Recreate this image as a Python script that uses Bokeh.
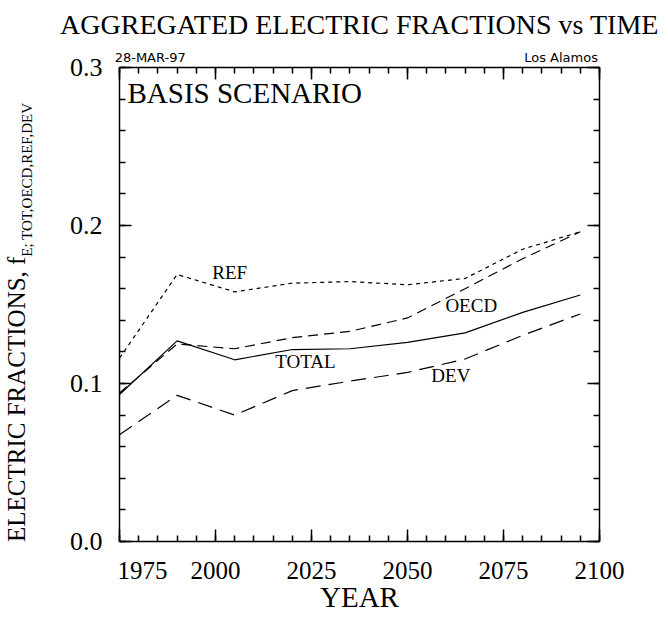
import math
from bokeh.plotting import figure
from bokeh.models import LinearAxis, FixedTicker, Label, ColumnDataSource, PrintfTickFormatter, Title
from bokeh.core.properties import value
from bokeh.embed import file_html
from bokeh.resources import INLINE

# ---- data ----
years = [1975, 1990, 2005, 2020, 2035, 2050, 2065, 2080, 2095]
total = [0.093, 0.127, 0.115, 0.1215, 0.122, 0.126, 0.132, 0.145, 0.156]
oecd = [0.094, 0.125, 0.122, 0.129, 0.133, 0.1415, 0.160, 0.179, 0.196]
ref = [0.116, 0.169, 0.158, 0.1635, 0.1645, 0.1625, 0.1665, 0.185, 0.196]
dev = [0.0675, 0.0925, 0.080, 0.0955, 0.1015, 0.107, 0.1155, 0.1305, 0.144]

label_names = ["REF", "OECD", "TOTAL", "DEV"]
label_x = [2003.7, 2066.6, 2023.4, 2061.3]
label_y = [0.170, 0.1494, 0.114, 0.105]

x_major = [1975, 2000, 2025, 2050, 2075, 2100]
x_minor = [1975, 1980, 1985, 1990, 1995, 2000, 2005, 2010, 2015, 2020, 2025,
           2030, 2035, 2040, 2045, 2050, 2055, 2060, 2065, 2070, 2075, 2080,
           2085, 2090, 2095, 2100]
x_label_pos = [1981, 2000, 2025, 2050, 2075, 2100]
x_label_text = {1981: "1975", 2000: "2000", 2025: "2025", 2050: "2050",
                2075: "2075", 2100: "2100"}
y_major = [0.0, 0.1, 0.2, 0.3]
y_minor = [0.0, 0.02, 0.04, 0.06, 0.08, 0.1, 0.12, 0.14, 0.16, 0.18, 0.2,
           0.22, 0.24, 0.26, 0.28, 0.3]
corner_pos = [1983, 2090]
corner_text = {1983: "28-MAR-97", 2090: "Los Alamos"}
ylab_main_pos = [0.09]
ylab_main_text = {0.09: "ELECTRIC FRACTIONS, f"}
ylab_sub_pos = [0.229]
ylab_sub_text = {0.229: "E; TOT,OECD,REF,DEV"}

SERIF = "Liberation Serif"

p = figure(width=660, height=620, x_range=(1975, 2100), y_range=(0, 0.3),
           output_backend="svg", toolbar_location=None,
           min_border_left=119, min_border_right=61, min_border_top=61,
           min_border_bottom=79)
p.grid.visible = False
p.outline_line_color = None
p.background_fill_color = "white"
p.border_fill_color = "white"

bottom = p.below[0]
left = p.left[0]
top = LinearAxis()
right = LinearAxis()
p.add_layout(top, "above")
p.add_layout(right, "right")

for ax in [bottom, top]:
    ax.ticker = FixedTicker(ticks=x_major, minor_ticks=x_minor)
for ax in [left, right]:
    ax.ticker = FixedTicker(ticks=y_major, minor_ticks=y_minor)

for ax in [bottom, top, left, right]:
    ax.major_tick_in = 12
    ax.major_tick_out = 0
    ax.minor_tick_in = 6
    ax.minor_tick_out = 0
    ax.axis_line_width = 1.5
    ax.axis_line_color = "black"
    ax.major_tick_line_width = 1.5
    ax.minor_tick_line_width = 1.5
    ax.major_tick_line_color = "black"
    ax.minor_tick_line_color = "black"
    ax.major_label_text_font = SERIF
    ax.major_label_text_color = "black"

for ax in [top, right, bottom]:
    ax.major_label_text_font_size = "0px"
    ax.major_label_standoff = 0

left.major_label_text_font_size = "26px"
left.major_label_standoff = 17
left.formatter = PrintfTickFormatter(format="%.1f")


def label_axis(ticks, overrides, font, size, standoff, cls=LinearAxis):
    ax = cls(ticker=FixedTicker(ticks=ticks, minor_ticks=[]),
             major_label_overrides=overrides)
    ax.axis_line_color = None
    ax.major_tick_line_color = None
    ax.minor_tick_line_color = None
    ax.major_tick_in = 0
    ax.major_tick_out = 0
    ax.minor_tick_in = 0
    ax.minor_tick_out = 0
    ax.major_label_text_font = font
    ax.major_label_text_font_size = size
    ax.major_label_text_color = "black"
    ax.major_label_standoff = standoff
    return ax


# bottom tick labels + YEAR
xlab = label_axis(x_label_pos, x_label_text, SERIF, "25px", 20)
xlab.axis_label = "YEAR"
xlab.axis_label_text_font = SERIF
xlab.axis_label_text_font_size = "29px"
xlab.axis_label_text_font_style = "normal"
xlab.axis_label_text_color = "black"
xlab.axis_label_standoff = -1
p.add_layout(xlab, "below")

# top corner texts
clab = label_axis(corner_pos, corner_text, "DejaVu Sans", "13px", 3)
p.add_layout(clab, "above")

p.add_layout(Title(text="AGGREGATED ELECTRIC FRACTIONS vs TIME", align="center",
                   standoff=13, text_font=SERIF, text_font_size="28px",
                   text_font_style="normal", text_color="black"), "above")

# y axis label with subscript (label-only axes, rotated parallel)
ysub = label_axis(ylab_sub_pos, ylab_sub_text, SERIF, "15px", 31)
ysub.major_label_orientation = "parallel"
p.add_layout(ysub, "left")
ymain = label_axis(ylab_main_pos, ylab_main_text, SERIF, "25px", -14)
ymain.major_label_orientation = "parallel"
p.add_layout(ymain, "left")

# ---- series ----
p.line(years, total, line_color="black", line_width=1.2)
p.line(years, oecd, line_color="black", line_width=1.2, line_dash="10 6")
p.line(years, ref, line_color="black", line_width=1.2, line_dash="4 4")
p.line(years, dev, line_color="black", line_width=1.2, line_dash="15 8")

src = ColumnDataSource(dict(x=label_x, y=label_y, t=label_names))
p.text(x="x", y="y", text="t", source=src, text_font=value(SERIF),
       text_font_size="19px", text_align="center", text_baseline="middle",
       text_color="black")

p.add_layout(Label(x=1975, y=0.3, x_offset=8, y_offset=-25, text="BASIS SCENARIO",
                   text_font=SERIF, text_font_size="29px",
                   text_align="left", text_baseline="alphabetic", text_color="black"))

open("out.html", "w").write(file_html(p, INLINE))
